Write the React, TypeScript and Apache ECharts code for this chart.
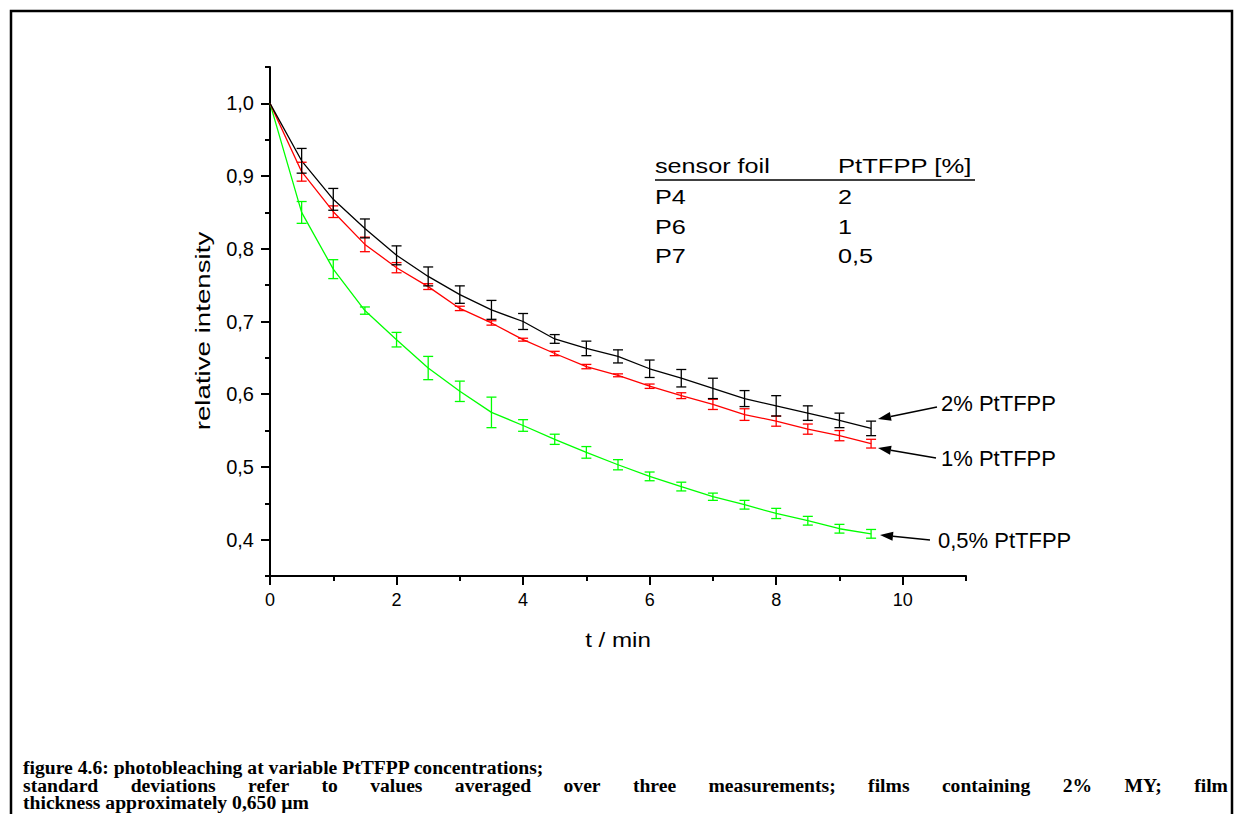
import React, { useEffect, useRef } from "react";
import * as echarts from "echarts";

// ---------- data ----------
const timeMin = [0, 0.5, 1, 1.5, 2, 2.5, 3, 3.5, 4, 4.5, 5, 5.5, 6, 6.5, 7, 7.5, 8, 8.5, 9, 9.5];

const p4Values = [1.0, 0.921, 0.868, 0.828, 0.791, 0.762, 0.737, 0.716, 0.7, 0.676, 0.663, 0.652, 0.635, 0.622, 0.608, 0.594, 0.584, 0.574, 0.564, 0.553];
const p4Errors = [0, 0.017, 0.015, 0.013, 0.013, 0.013, 0.012, 0.013, 0.011, 0.006, 0.01, 0.009, 0.012, 0.012, 0.014, 0.011, 0.014, 0.01, 0.01, 0.01];

const p6Values = [1.0, 0.906, 0.851, 0.806, 0.774, 0.748, 0.718, 0.698, 0.675, 0.656, 0.638, 0.626, 0.611, 0.598, 0.586, 0.572, 0.563, 0.552, 0.543, 0.532];
const p6Errors = [0, 0.013, 0.008, 0.01, 0.007, 0.004, 0.003, 0.003, 0.002, 0.003, 0.003, 0.002, 0.003, 0.004, 0.007, 0.008, 0.007, 0.007, 0.007, 0.006];

const p7Values = [1.0, 0.85, 0.772, 0.715, 0.675, 0.636, 0.604, 0.575, 0.557, 0.538, 0.52, 0.503, 0.487, 0.473, 0.459, 0.448, 0.436, 0.426, 0.415, 0.408];
const p7Errors = [0, 0.015, 0.013, 0.005, 0.01, 0.016, 0.014, 0.021, 0.008, 0.007, 0.008, 0.007, 0.006, 0.006, 0.005, 0.006, 0.007, 0.006, 0.006, 0.006];

const tableHeader = ["sensor foil", "PtTFPP [%]"];
const tableFoils = ["P4", "P6", "P7"];
const tableConc = ["2", "1", "0,5"];
const curveLabels = ["2% PtTFPP", "1% PtTFPP", "0,5% PtTFPP"];

const xTitle = "t / min";
const yTitle = "relative intensity";
const captionLine1 = "figure 4.6: photobleaching at variable PtTFPP concentrations;";
const captionLine2 = "standard deviations refer to values averaged over three measurements; films containing 2% MY; film";
const captionLine3 = "thickness approximately 0,650 µm";

// axis ranges
const xMin = 0, xMax = 11, xMinorStep = 1, xMajorMax = 10, xMajorStep = 2;
const yMin = 0.35, yMax = 1.05, yMinorStep = 0.05, yMajorMin = 0.4, yMajorMax = 1.0, yMajorStep = 0.1;

// ---------- layout ----------
const W = 1238, H = 814;
const plotL = 270, plotR = 966, plotT = 67, plotB = 576;
const SANS = "'Liberation Sans', Arial, Helvetica, sans-serif";
const SERIF = "'Liberation Serif', 'Times New Roman', Times, serif";

function errorSeries(name: string, color: string, vals: number[], errs: number[]) {
  const data = timeMin
    .map((t, i) => [t, vals[i] - errs[i], vals[i] + errs[i], errs[i]])
    .filter((d) => d[3] > 0);
  return {
    name: name + " err",
    type: "custom",
    xAxisIndex: 0,
    yAxisIndex: 0,
    data,
    encode: { x: 0, y: [1, 2] },
    z: 3,
    renderItem: (_p: any, api: any) => {
      const x = api.value(0);
      const lo = api.coord([x, api.value(1)]);
      const hi = api.coord([x, api.value(2)]);
      const hw = 5;
      const st = { stroke: color, lineWidth: 1.3 };
      return {
        type: "group",
        children: [
          { type: "line", shape: { x1: lo[0], y1: lo[1], x2: hi[0], y2: hi[1] }, style: st },
          { type: "line", shape: { x1: lo[0] - hw, y1: lo[1], x2: lo[0] + hw, y2: lo[1] }, style: st },
          { type: "line", shape: { x1: hi[0] - hw, y1: hi[1], x2: hi[0] + hw, y2: hi[1] }, style: st },
        ],
      };
    },
  };
}

function lineSeries(name: string, color: string, vals: number[]) {
  return {
    name,
    type: "line",
    xAxisIndex: 0,
    yAxisIndex: 0,
    data: timeMin.map((t, i) => [t, vals[i]]),
    showSymbol: false,
    symbol: "none",
    lineStyle: { color, width: 1.3 },
    z: 2,
  };
}

function arrow(tail: number[], tip: number[]) {
  const dx = tip[0] - tail[0], dy = tip[1] - tail[1];
  const len = Math.sqrt(dx * dx + dy * dy);
  const ux = dx / len, uy = dy / len;
  const L = 13, w = 4.5;
  const bx = tip[0] - ux * L, by = tip[1] - uy * L;
  const nx = -uy, ny = ux;
  return [
    { type: "line", shape: { x1: tail[0], y1: tail[1], x2: bx, y2: by }, style: { stroke: "#000", lineWidth: 1.6 } },
    {
      type: "polygon",
      shape: { points: [tip, [bx + nx * w, by + ny * w], [bx - nx * w, by - ny * w]] },
      style: { fill: "#000" },
    },
  ];
}

function txt(text: string, x: number, y: number, size: number, opts: any = {}) {
  return {
    type: "text",
    x,
    y,
    rotation: opts.rotation || 0,
    scaleX: opts.scaleX || 1,
    style: {
      text,
      fontSize: size,
      fontFamily: opts.family || SANS,
      fontWeight: opts.weight || "normal",
      fill: "#000",
      textAlign: opts.align || "left",
      textVerticalAlign: "middle",
    },
  };
}

export default function App() {
  const ref = useRef<HTMLDivElement>(null);

  useEffect(() => {
    document.body.style.margin = "0";
    const chart = echarts.init(ref.current!, null, { renderer: "svg" });

    const pxPerY = (plotB - plotT) / (yMax - yMin);
    const pxPerX = (plotR - plotL) / (xMax - xMin);
    const majT = plotB - (yMajorMax - yMin) * pxPerY;
    const majB = plotB - (yMajorMin - yMin) * pxPerY;
    const majR = plotL + (xMajorMax - xMin) * pxPerX;

    // caption: bold serif, condensed to the reference width, second line justified
    const ctx = document.createElement("canvas").getContext("2d")!;
    const capLeft = 23, capRight = 1228, capSize = 19;
    ctx.font = `bold ${capSize}px ${SERIF}`;
    const w1 = ctx.measureText(captionLine1).width;
    const capScale = Math.max(0.75, Math.min(1.2, 522 / w1));
    const words = captionLine2.split(" ");
    const widths = words.map((w) => ctx.measureText(w).width * capScale);
    const total = widths.reduce((a, b) => a + b, 0);
    const gap = (capRight - capLeft - total) / (words.length - 1);
    const capWords: any[] = [];
    let cx = capLeft;
    words.forEach((w, i) => {
      capWords.push(txt(w, cx, 786, capSize, { family: SERIF, weight: "bold", scaleX: capScale }));
      cx += widths[i] + gap;
    });

    const axisLineStyle = { color: "#000", width: 2 };
    const option: any = {
      animation: false,
      backgroundColor: "#fff",
      grid: [
        { left: plotL, right: W - plotR, top: plotT, bottom: H - plotB, containLabel: false },
        { left: plotL, right: W - majR, top: majT, bottom: H - majB, containLabel: false },
      ],
      xAxis: [
        {
          gridIndex: 0, type: "value", min: xMin, max: xMax, interval: xMinorStep,
          axisLine: { show: true, onZero: false, lineStyle: axisLineStyle },
          axisTick: { show: true, length: 5, lineStyle: { color: "#000", width: 2 } },
          axisLabel: { show: false },
          splitLine: { show: false },
        },
        {
          gridIndex: 1, type: "value", min: xMin, max: xMajorMax, interval: xMajorStep,
          offset: plotB - majB,
          axisLine: { show: false, onZero: false },
          axisTick: { show: true, length: 9, lineStyle: { color: "#000", width: 2 } },
          axisLabel: { show: true, color: "#000", fontSize: 18, fontFamily: SANS, margin: 15 },
          splitLine: { show: false },
        },
      ],
      yAxis: [
        {
          gridIndex: 0, type: "value", min: yMin, max: yMax, interval: yMinorStep,
          axisLine: { show: true, onZero: false, lineStyle: axisLineStyle },
          axisTick: { show: true, length: 5, lineStyle: { color: "#000", width: 2 } },
          axisLabel: { show: false },
          splitLine: { show: false },
        },
        {
          gridIndex: 1, type: "value", min: yMajorMin, max: yMajorMax, interval: yMajorStep,
          axisLine: { show: false, onZero: false },
          axisTick: { show: true, length: 9, lineStyle: { color: "#000", width: 2 } },
          axisLabel: {
            show: true, color: "#000", fontSize: 20, fontFamily: SANS, margin: 16,
            formatter: (v: number) => v.toFixed(1).replace(".", ","),
          },
          splitLine: { show: false },
        },
      ],
      series: [
        lineSeries("P7", "#00ff00", p7Values),
        lineSeries("P6", "#ff0000", p6Values),
        lineSeries("P4", "#000000", p4Values),
        errorSeries("P7", "#00ff00", p7Values, p7Errors),
        errorSeries("P6", "#ff0000", p6Values, p6Errors),
        errorSeries("P4", "#000000", p4Values, p4Errors),
      ],
      graphic: [
        { type: "rect", shape: { x: 11, y: 11, width: 1221, height: 900 }, style: { fill: "none", stroke: "#000", lineWidth: 2.5 } },
        txt(yTitle, 202.5, 331, 21, { rotation: Math.PI / 2, scaleX: 1.32, align: "center" }),
        txt(xTitle, 618, 640, 21, { scaleX: 1.15, align: "center" }),
        // table
        txt(tableHeader[0], 655, 166, 21, { scaleX: 1.2 }),
        txt(tableHeader[1], 838, 166, 21, { scaleX: 1.22 }),
        { type: "line", shape: { x1: 655, y1: 180, x2: 975, y2: 180 }, style: { stroke: "#000", lineWidth: 1.6 } },
        ...tableFoils.map((f, i) => txt(f, 655, 197 + i * 29.5, 21, { scaleX: 1.2 })),
        ...tableConc.map((c, i) => txt(c, 838, 197 + i * 29.5, 21, { scaleX: 1.2 })),
        // curve labels
        txt(curveLabels[0], 941, 403, 22),
        txt(curveLabels[1], 941, 458, 22),
        txt(curveLabels[2], 938, 540, 22),
        ...arrow([937, 407], [878, 419]),
        ...arrow([936, 458], [878, 448]),
        ...arrow([930, 540], [880, 535]),
        // caption
        txt(captionLine1, capLeft, 768, capSize, { family: SERIF, weight: "bold", scaleX: capScale }),
        ...capWords,
        txt(captionLine3, capLeft, 803, capSize, { family: SERIF, weight: "bold", scaleX: capScale }),
      ],
    };

    chart.setOption(option);
    return () => chart.dispose();
  }, []);

  return <div ref={ref} style={{ width: W, height: H, background: "#fff" }} />;
}
